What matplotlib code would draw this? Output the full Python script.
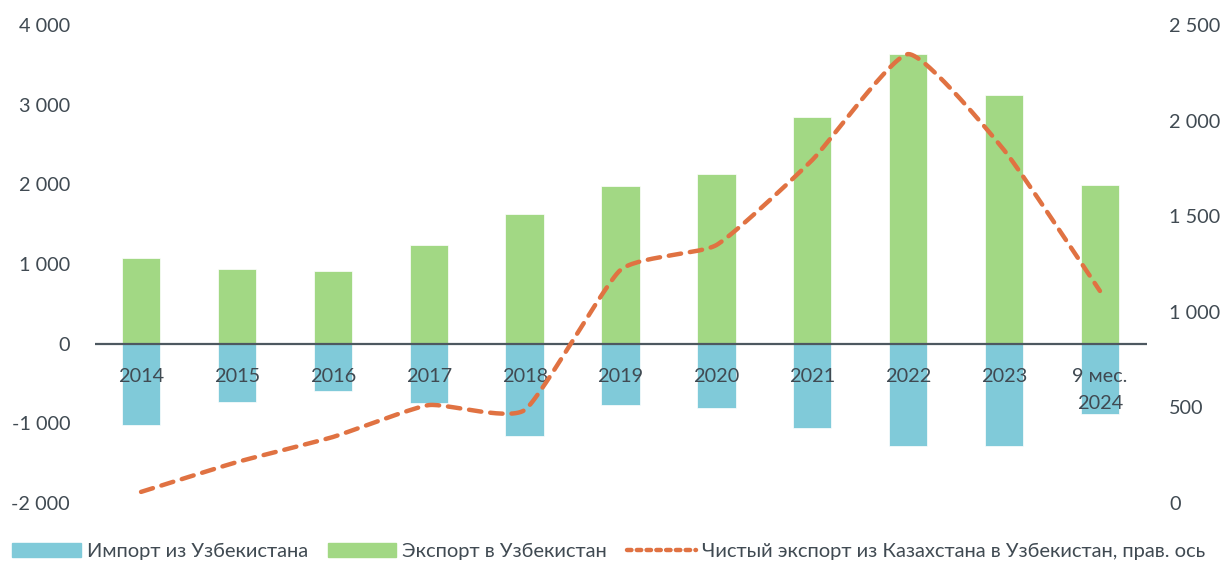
import numpy as np
import matplotlib
matplotlib.use("Agg")
import matplotlib.pyplot as plt
from matplotlib.patches import Patch
from matplotlib.lines import Line2D

categories = ["2014", "2015", "2016", "2017", "2018", "2019", "2020", "2021", "2022", "2023", "9 мес.\n2024"]
export_vals = [1079, 941, 916, 1242, 1631, 1982, 2133, 2848, 3639, 3124, 1995]
import_vals = [-1016, -728, -590, -740, -1154, -765, -803, -1054, -1280, -1280, -878]
net_vals = [58, 214, 345, 512, 486, 1219, 1349, 1794, 2348, 1846, 1109]
left_ticks = [-2000, -1000, 0, 1000, 2000, 3000, 4000]
right_ticks = [0, 500, 1000, 1500, 2000, 2500]

labels = ["Импорт из Узбекистана", "Экспорт в Узбекистан",
          "Чистый экспорт из Казахстана в Узбекистан, прав. ось"]

c_imp = "#80CAD9"
c_exp = "#A2D884"
c_net = "#E07242"
c_txt = "#404A52"

plt.rcParams['font.family'] = ['Lato', 'DejaVu Sans']

def fmt(v):
    return f"{v:,}".replace(",", " ")

def catmull(xs, ys, n=30, k=0.5):
    xs = np.asarray(xs, float); ys = np.asarray(ys, float)
    px = np.concatenate([[2*xs[0]-xs[1]], xs, [2*xs[-1]-xs[-2]]])
    py = np.concatenate([[2*ys[0]-ys[1]], ys, [2*ys[-1]-ys[-2]]])
    ox, oy = [], []
    for i in range(1, len(px)-2):
        t = np.linspace(0, 1, n, endpoint=(i == len(px)-3))
        for arr, out in ((px, ox), (py, oy)):
            p0, p1, p2, p3 = arr[i-1], arr[i], arr[i+1], arr[i+2]
            m1 = (p2 - p0) / 2 * k
            m2 = (p3 - p1) / 2 * k
            h00 = 2*t**3 - 3*t**2 + 1
            h10 = t**3 - 2*t**2 + t
            h01 = -2*t**3 + 3*t**2
            h11 = t**3 - t**2
            out.extend(h00*p1 + h10*m1 + h01*p2 + h11*m2)
    return np.array(ox), np.array(oy)

fig = plt.figure(figsize=(12.26, 5.61), dpi=100)
ax = fig.add_axes([0.0775, 0.1034, 0.858, 0.852])
x = np.arange(len(categories))
w = 0.4
ax.bar(x, import_vals, w, color=c_imp, edgecolor="white", linewidth=0.5, zorder=2)
ax.bar(x, export_vals, w, color=c_exp, edgecolor="white", linewidth=0.5, zorder=2)
ax.axhline(0, color="#4D5860", lw=1.6, zorder=3)
ax.set_ylim(-2000, 4000)
ax.set_xlim(-0.48, 10.49)
ax.set_yticks(left_ticks)
ax.set_yticklabels([fmt(v) for v in left_ticks])
ax.set_xticks([])
for s in ax.spines.values():
    s.set_visible(False)
ax.tick_params(axis='y', length=0, pad=18, labelsize=14.3, labelcolor=c_txt)

for i, lab in enumerate(categories):
    ax.annotate(lab, (i, 0), xytext=(0, -17.5), textcoords="offset points",
                ha="center", va="top", fontsize=14.3, color=c_txt,
                linespacing=1.75, zorder=5)

ax2 = ax.twinx()
ax2.set_ylim(0, 2500)
ax2.set_yticks(right_ticks)
ax2.set_yticklabels([fmt(v) for v in right_ticks])
for s in ax2.spines.values():
    s.set_visible(False)
ax2.tick_params(axis='y', length=0, pad=16, labelsize=14.3, labelcolor=c_txt)
sx, sy = catmull(x, net_vals)
ax2.plot(sx, sy, color=c_net, lw=3.2, dashes=(2.8, 2.0), dash_capstyle="round", zorder=4)

handles = [Patch(color=c_imp), Patch(color=c_exp),
           Line2D([], [], color=c_net, lw=3.2, dashes=(1.0, 1.2), dash_capstyle="round")]
leg = fig.legend(handles, labels, loc="lower left", bbox_to_anchor=(0.0, -0.02), ncol=3,
                 frameon=False, fontsize=14.5, handlelength=3.4, handleheight=0.75,
                 handletextpad=0.3, columnspacing=1.0, labelcolor=c_txt, borderaxespad=0.2)

fig.savefig("out.png", dpi=100)
